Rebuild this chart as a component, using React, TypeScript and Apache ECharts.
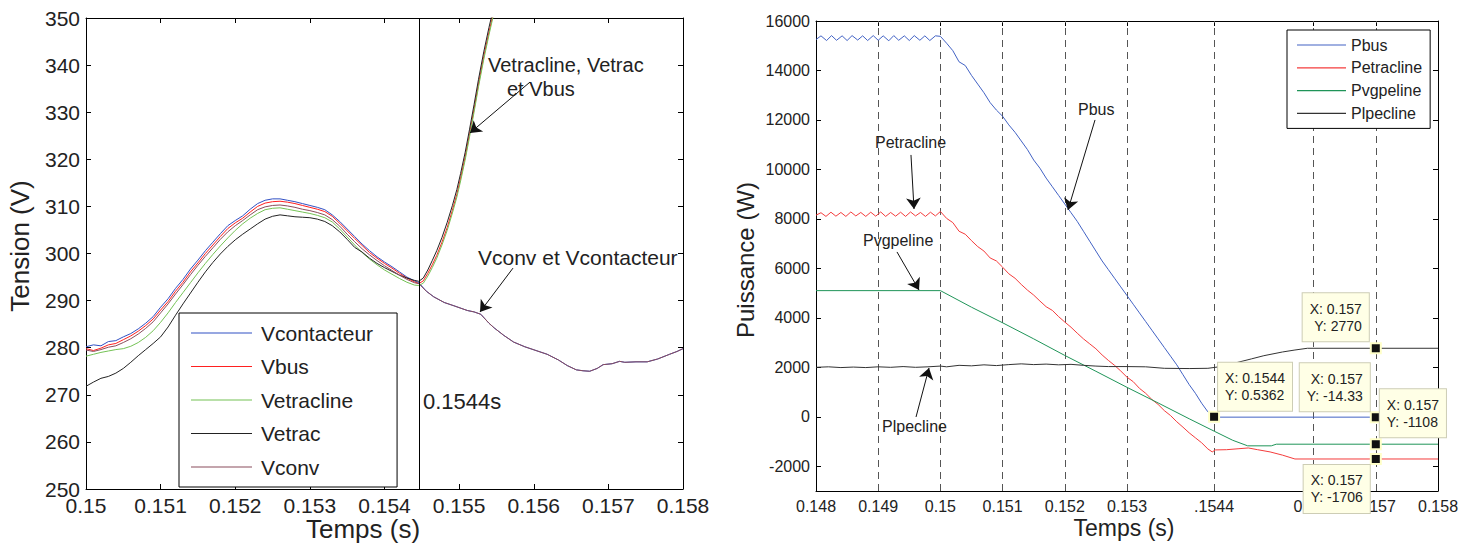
import React, { useEffect, useRef } from "react";
import * as echarts from "echarts";

const FONT = '"Liberation Sans", Arial, Helvetica, sans-serif';

// ---------------- Left chart: Tension (V) ----------------
const X_TICKS_L = [0.15, 0.151, 0.152, 0.153, 0.154, 0.155, 0.156, 0.157, 0.158];
const Y_RANGE_L = [250, 350];
const SWITCH_T = 0.15446;

const T_BEFORE = [
  0.15, 0.1501, 0.1502, 0.1503, 0.1504, 0.1505, 0.1506, 0.1507, 0.1508, 0.1509,
  0.151, 0.1511, 0.1512, 0.1513, 0.1514, 0.1515, 0.1516, 0.1517, 0.1518, 0.1519,
  0.152, 0.1521, 0.1522, 0.1523, 0.1524, 0.1525, 0.1526, 0.1527, 0.1528, 0.1529,
  0.153, 0.1531, 0.1532, 0.1533, 0.1534, 0.1535, 0.1536, 0.1537, 0.1538, 0.1539,
  0.154, 0.1541, 0.1542, 0.1543, 0.1544, 0.15446,
];
const V_VCONTACTEUR_BEFORE = [
  280.2, 280.6, 280.4, 281.3, 281.5, 282.3, 283.0, 284.0, 285.2, 286.6,
  288.6, 290.4, 292.6, 294.5, 296.7, 298.6, 300.6, 302.4, 304.2, 305.9,
  307.0, 308.0, 309.4, 310.6, 311.3, 311.6, 311.6, 311.3, 311.0, 310.6,
  310.2, 309.8, 309.3, 308.2, 306.8, 305.2, 303.6, 302.0, 300.6, 299.3,
  298.2, 297.2, 296.1, 295.0, 294.2, 293.8,
];
const V_VBUS_BEFORE = [
  279.8, 279.4, 279.9, 280.6, 280.9, 281.7, 282.5, 283.5, 284.7, 286.1,
  288.0, 289.8, 292.0, 293.9, 296.1, 298.0, 300.0, 301.8, 303.6, 305.3,
  306.5, 307.5, 308.8, 310.0, 310.7, 311.0, 311.1, 310.9, 310.6, 310.2,
  309.8, 309.4, 308.9, 307.9, 306.4, 304.8, 303.2, 301.7, 300.2, 299.0,
  297.9, 296.9, 295.8, 294.8, 294.0, 293.6,
];
const V_VETRACLINE_BEFORE = [
  278.2, 278.6, 279.0, 279.3, 279.6, 279.8, 280.3, 281.1, 282.2, 283.6,
  285.4, 287.4, 289.6, 291.7, 293.8, 295.9, 297.9, 299.8, 301.6, 303.3,
  304.9, 306.3, 307.5, 308.5, 309.3, 309.6, 309.7, 309.4, 309.1, 308.8,
  308.5, 308.1, 307.6, 306.7, 305.2, 303.5, 301.8, 300.2, 298.8, 297.6,
  296.5, 295.6, 294.7, 293.9, 293.3, 293.2,
];
const V_VETRAC_BEFORE = [
  271.8, 272.7, 273.5, 273.9, 274.6, 275.6, 276.9, 278.3, 279.6, 280.9,
  282.3, 284.4, 286.9, 289.3, 291.6, 293.9, 296.1, 298.1, 299.9, 301.5,
  302.9, 304.1, 305.2, 306.3, 307.3, 307.9, 308.2, 308.0, 307.8, 307.7,
  307.6, 307.3, 306.8, 305.9, 304.6, 303.0, 301.3, 300.3, 299.0, 297.9,
  297.0, 296.2, 295.4, 294.8, 294.3, 294.1,
];
const V_VCONV_BEFORE = [
  279.5, 279.2, 279.6, 280.1, 280.4, 281.1, 281.9, 282.9, 284.1, 285.5,
  287.4, 289.3, 291.4, 293.4, 295.5, 297.5, 299.4, 301.2, 303.0, 304.6,
  305.9, 307.0, 308.2, 309.3, 309.9, 310.2, 310.3, 310.1, 309.8, 309.4,
  309.1, 308.7, 308.2, 307.2, 305.8, 304.1, 302.5, 301.0, 299.7, 298.5,
  297.4, 296.4, 295.4, 294.5, 293.8, 293.6,
];

const T_RISE = [
  0.15452, 0.15458, 0.15464, 0.1547, 0.15477, 0.15484, 0.15491, 0.15497, 0.15502,
  0.15508, 0.15514, 0.1552, 0.15526, 0.15533, 0.1554, 0.15548, 0.15556,
];
const V_VBUS_RISE = [
  294.2, 295.8, 297.6, 299.6, 302.4, 305.5, 309.2, 312.6, 316.0,
  320.4, 325.4, 330.6, 336.0, 341.8, 347.0, 352.5, 358.0,
];
const V_VETRACLINE_RISE = [
  293.7, 295.2, 297.0, 299.0, 301.8, 304.9, 308.6, 312.0, 315.4,
  319.8, 324.8, 330.0, 335.4, 341.2, 346.4, 352.0, 357.5,
];
const V_VETRAC_RISE = [
  294.8, 296.5, 298.5, 300.6, 303.4, 306.6, 310.2, 313.6, 317.0,
  321.4, 326.4, 331.6, 337.0, 342.8, 348.0, 353.4, 359.0,
];

const T_AFTER = [
  0.15456, 0.15466, 0.1548, 0.15493, 0.15511, 0.1552, 0.15529, 0.1554, 0.15547, 0.1556,
  0.15573, 0.15588, 0.15603, 0.15618, 0.15633, 0.15645, 0.15657, 0.15666, 0.15675, 0.15685,
  0.15693, 0.15705, 0.15715, 0.15722, 0.15737, 0.15752, 0.15766, 0.15782, 0.15792, 0.158,
];
const V_CONV_AFTER = [
  292.0, 290.8, 289.6, 288.9, 287.9, 287.6, 287.1, 285.2, 284.2, 282.6,
  281.2, 280.2, 279.4, 278.6, 277.4, 276.2, 275.3, 275.1, 275.0, 275.6,
  276.4, 276.6, 277.1, 276.9, 277.0, 277.0, 277.6, 278.6, 279.2, 279.8,
];

// ---------------- Right chart: Puissance (W) ----------------
const X_TICKS_R = [0.148, 0.149, 0.15, 0.151, 0.152, 0.153, 0.1544, 0.156, 0.157, 0.158];
const X_LABELS_R = ["0.148", "0.149", "0.15", "0.151", "0.152", "0.153", ".1544", "0.156", "0.157", "0.158"];
const X_GRID_R = [0.149, 0.15, 0.151, 0.152, 0.153, 0.1544, 0.156, 0.157];
const Y_TICKS_R = [-2000, 0, 2000, 4000, 6000, 8000, 10000, 12000, 14000, 16000];
const Y_RANGE_R = [-3000, 16000];

const T_PBUS = [
  0.148, 0.14808, 0.14817, 0.14825, 0.14833, 0.14842, 0.1485, 0.14858, 0.14867, 0.14875,
  0.14883, 0.14892, 0.149, 0.14908, 0.14917, 0.14925, 0.14933, 0.14942, 0.1495, 0.14958,
  0.14967, 0.14975, 0.14983, 0.14992, 0.15,
  0.1501, 0.1502, 0.1503, 0.1504, 0.1505, 0.1506, 0.1507, 0.1508, 0.1509, 0.151,
  0.1511, 0.1512, 0.1513, 0.1514, 0.1515, 0.1516, 0.1517, 0.1518, 0.1519, 0.152,
  0.1521, 0.1522, 0.1523, 0.1524, 0.1525, 0.1526, 0.1527, 0.1528, 0.1529, 0.153,
  0.1531, 0.1532, 0.1533, 0.1534, 0.1535, 0.1536, 0.1537, 0.1538, 0.1539, 0.154,
  0.1541, 0.1542, 0.1543, 0.1544, 0.15445, 0.158,
];
const P_PBUS = [
  15250, 15400, 15210, 15410, 15220, 15400, 15210, 15410, 15230, 15400,
  15210, 15410, 15220, 15400, 15200, 15410, 15220, 15400, 15210, 15410,
  15220, 15400, 15210, 15400, 15380,
  15100, 14800, 14350, 14200, 13800, 13450, 13100, 12700, 12400, 12150,
  11800, 11500, 11150, 10800, 10380, 10050, 9650, 9300, 8950, 8600,
  8250, 7900, 7500, 7100, 6700, 6300, 5950, 5600, 5250, 4900,
  4550, 4200, 3850, 3500, 3150, 2800, 2450, 2100, 1700, 1300,
  950, 550, 200, 0.5362, -14.33, -14.33,
];

const T_PETRACLINE = [
  0.148, 0.14808, 0.14816, 0.14824, 0.14832, 0.1484, 0.14848, 0.14856, 0.14864, 0.14872,
  0.1488, 0.14888, 0.14896, 0.14904, 0.14912, 0.1492, 0.14928, 0.14936, 0.14944, 0.14952,
  0.1496, 0.14968, 0.14976, 0.14984, 0.14992, 0.15,
  0.1501, 0.1502, 0.1503, 0.1504, 0.1505, 0.1506, 0.1507, 0.1508, 0.1509, 0.151,
  0.1511, 0.1512, 0.1513, 0.1514, 0.1515, 0.1516, 0.1517, 0.1518, 0.1519, 0.152,
  0.1521, 0.1522, 0.1523, 0.1524, 0.1525, 0.1526, 0.1527, 0.1528, 0.1529, 0.153,
  0.1531, 0.1532, 0.1533, 0.1534, 0.1535, 0.1536, 0.1537, 0.1538, 0.1539, 0.154,
  0.1541, 0.1542, 0.1543, 0.15437, 0.15442, 0.1546, 0.1548, 0.15495, 0.1551, 0.1553,
  0.1555, 0.1557, 0.157, 0.158,
];
const P_PETRACLINE = [
  8150, 8250, 8100, 8270, 8110, 8260, 8100, 8280, 8120, 8260,
  8100, 8270, 8110, 8280, 8100, 8260, 8110, 8270, 8100, 8280,
  8120, 8260, 8100, 8270, 8120, 8300,
  8020, 7850, 7500, 7380, 7120, 6880, 6700, 6420, 6300, 6050,
  5780, 5600, 5350, 5120, 4920, 4680, 4450, 4300, 4050, 3830,
  3620, 3380, 3150, 2950, 2750, 2500, 2280, 2080, 1850, 1600,
  1420, 1150, 950, 700, 500, 250, 50, -200, -420, -650,
  -850, -1050, -1300, -1420, -1340, -1330, -1290, -1260, -1330, -1420,
  -1550, -1706, -1706, -1706,
];

const T_PVGPELINE = [0.148, 0.15, 0.1505, 0.151, 0.1515, 0.152, 0.1525, 0.153, 0.1535, 0.154, 0.1544, 0.1547, 0.15494, 0.15532, 0.1554, 0.157, 0.158];
const P_PVGPELINE = [5100, 5100, 4430, 3800, 3150, 2480, 1840, 1190, 560, -80, -580, -950, -1174, -1174, -1108, -1108, -1108];

const T_PLPECLINE = [
  0.148, 0.1482, 0.1484, 0.1486, 0.1488, 0.149, 0.1492, 0.1494, 0.1496, 0.1498,
  0.15, 0.1501, 0.1503, 0.1505, 0.1507, 0.1509, 0.1511, 0.1513, 0.1515, 0.1517,
  0.1519, 0.1521, 0.1523, 0.1525, 0.1527, 0.153, 0.1533, 0.1536, 0.154, 0.1543,
  0.15445, 0.1547, 0.155, 0.1552, 0.1555, 0.1557, 0.1559, 0.157, 0.158,
];
const P_PLPECLINE = [
  2000, 2020, 1990, 2010, 1990, 2020, 2000, 2030, 2000, 2020,
  2050, 2020, 2080, 2060, 2100, 2070, 2110, 2140, 2110, 2130,
  2100, 2120, 2080, 2050, 2030, 2030, 2020, 1960, 1950, 1960,
  2010, 2150, 2340, 2470, 2620, 2700, 2770, 2770, 2770,
];

const zip = (t: number[], v: number[]) => t.map((x, i) => [x, v[i]]);

const C = {
  vcontacteur: "#3150c4",
  vbus: "#ff2020",
  vetracline: "#74c255",
  vetrac: "#222222",
  vconv: "#8a4c5c",
  pbus: "#4262c4",
  petracline: "#f43c3c",
  pvgpeline: "#1f9458",
  plpecline: "#333333",
};

const axisCommon = {
  axisLine: { show: true, onZero: false, lineStyle: { color: "#000", width: 1 } },
  splitLine: { show: false },
};

function tipLabel(text: string, position: number[], align: string, vAlign: string) {
  return {
    show: true,
    formatter: text,
    position,
    align,
    verticalAlign: vAlign,
    backgroundColor: "#ffffe6",
    borderColor: "#cdcdb5",
    borderWidth: 1,
    padding: [7, 7],
    fontSize: 14,
    lineHeight: 17,
    color: "#222",
    fontFamily: FONT,
  };
}

function tip(coord: number[], text: string, position: number[], align: string, vAlign: string) {
  return { coord, label: tipLabel(text, position, align, vAlign) };
}

const markPointBase = {
  symbol: "rect",
  symbolSize: 10,
  silent: true,
  itemStyle: { color: "#111", borderColor: "#ffffc8", borderWidth: 2 },
};

function txt(text: string, x: number, y: number, size: number, align = "left", rot = 0) {
  return {
    type: "text",
    x,
    y,
    rotation: rot,
    silent: true,
    z: 100,
    style: {
      text,
      fill: "#222",
      fontSize: size,
      fontFamily: FONT,
      align,
      verticalAlign: "middle",
      textAlign: align,
      textVerticalAlign: "middle",
    },
  };
}

function buildOption() {
  const lineSeries = (name: string, color: string, data: number[][], xi: number, yi: number, extra: any = {}) => ({
    name,
    type: "line",
    xAxisIndex: xi,
    yAxisIndex: yi,
    data,
    symbol: "none",
    showSymbol: false,
    lineStyle: { color, width: 1 },
    itemStyle: { color },
    emphasis: { disabled: true },
    ...extra,
  });

  const arrowStyle = {
    silent: true,
    symbol: ["none", "arrow"],
    symbolSize: 11,
    label: { show: false },
    lineStyle: { color: "#111", width: 1, type: "solid" },
  };

  const legendBase = {
    orient: "vertical",
    selectedMode: false,
    icon: "rect",
    z: 20,
    borderColor: "#000",
    borderWidth: 1,
    backgroundColor: "#fff",
  };

  return {
    animation: false,
    backgroundColor: "#fff",
    textStyle: { fontFamily: FONT },
    grid: [
      { left: 86, top: 18, width: 597, height: 471 },
      { left: 816, top: 21, width: 622, height: 470 },
    ],
    xAxis: [
      {
        gridIndex: 0, type: "value", min: 0.15, max: 0.158, ...axisCommon,
        axisLabel: { customValues: X_TICKS_L, formatter: (v: number) => String(v), fontSize: 21, color: "#222", margin: 6 },
        axisTick: { customValues: X_TICKS_L, inside: true, length: 5, lineStyle: { color: "#000" } },
      },
      {
        gridIndex: 0, type: "value", position: "top", min: 0.15, max: 0.158, ...axisCommon,
        axisLabel: { show: false },
        axisTick: { customValues: X_TICKS_L, inside: true, length: 5, lineStyle: { color: "#000" } },
      },
      {
        gridIndex: 1, type: "value", min: 0.148, max: 0.158, ...axisCommon,
        axisLabel: {
          customValues: X_TICKS_R,
          formatter: (v: number) => {
            const i = X_TICKS_R.findIndex((t) => Math.abs(t - v) < 1e-9);
            return i >= 0 ? X_LABELS_R[i] : "";
          },
          fontSize: 16, color: "#222", margin: 7,
        },
        axisTick: { customValues: X_TICKS_R, inside: true, length: 5, lineStyle: { color: "#000" } },
      },
      {
        gridIndex: 1, type: "value", position: "top", min: 0.148, max: 0.158, ...axisCommon,
        axisLabel: { show: false },
        axisTick: { customValues: X_TICKS_R, inside: true, length: 5, lineStyle: { color: "#000" } },
      },
    ],
    yAxis: [
      {
        gridIndex: 0, type: "value", min: Y_RANGE_L[0], max: Y_RANGE_L[1], interval: 10, ...axisCommon,
        axisLabel: { fontSize: 21, color: "#222", margin: 6, formatter: (v: number) => String(v) },
        axisTick: { inside: true, length: 5, lineStyle: { color: "#000" } },
      },
      {
        gridIndex: 0, type: "value", position: "right", min: Y_RANGE_L[0], max: Y_RANGE_L[1], interval: 10, ...axisCommon,
        axisLabel: { show: false },
        axisTick: { inside: true, length: 5, lineStyle: { color: "#000" } },
      },
      {
        gridIndex: 1, type: "value", min: Y_RANGE_R[0], max: Y_RANGE_R[1], ...axisCommon,
        axisLabel: { customValues: Y_TICKS_R, fontSize: 16, color: "#222", margin: 6, formatter: (v: number) => String(v) },
        axisTick: { customValues: Y_TICKS_R, inside: true, length: 5, lineStyle: { color: "#000" } },
      },
      {
        gridIndex: 1, type: "value", position: "right", min: Y_RANGE_R[0], max: Y_RANGE_R[1], ...axisCommon,
        axisLabel: { show: false },
        axisTick: { customValues: Y_TICKS_R, inside: true, length: 5, lineStyle: { color: "#000" } },
      },
    ],
    legend: [
      {
        ...legendBase,
        data: ["Vcontacteur", "Vbus", "Vetracline", "Vetrac", "Vconv"],
        left: 179, top: 313,
        itemWidth: 61, itemHeight: 1.2, itemGap: 9.5,
        padding: [8, 24, 8, 12],
        textStyle: { fontSize: 21, lineHeight: 24, color: "#222", fontFamily: FONT, padding: [0, 0, 0, 4] },
      },
      {
        ...legendBase,
        data: ["Pbus", "Petracline", "Pvgpeline", "Plpecline"],
        left: 1287, top: 30,
        itemWidth: 49, itemHeight: 1.2, itemGap: 4.8,
        padding: [6, 8, 6, 10],
        textStyle: { fontSize: 16, lineHeight: 18, color: "#222", fontFamily: FONT },
      },
    ],
    series: [
      lineSeries("Vcontacteur", C.vcontacteur, zip([...T_BEFORE, ...T_AFTER], [...V_VCONTACTEUR_BEFORE, ...V_CONV_AFTER]), 0, 0),
      lineSeries("Vbus", C.vbus, zip([...T_BEFORE, ...T_RISE], [...V_VBUS_BEFORE, ...V_VBUS_RISE]), 0, 0),
      lineSeries("Vetracline", C.vetracline, zip([...T_BEFORE, ...T_RISE], [...V_VETRACLINE_BEFORE, ...V_VETRACLINE_RISE]), 0, 0),
      lineSeries("Vetrac", C.vetrac, zip([...T_BEFORE, ...T_RISE], [...V_VETRAC_BEFORE, ...V_VETRAC_RISE]), 0, 0, {
        markLine: {
          silent: true, symbol: "none", label: { show: false },
          lineStyle: { color: "#000", width: 1, type: "solid" },
          data: [[{ coord: [SWITCH_T, Y_RANGE_L[0]] }, { coord: [SWITCH_T, Y_RANGE_L[1]] }]],
        },
      }),
      lineSeries("Vconv", C.vconv, zip([...T_BEFORE, ...T_AFTER], [...V_VCONV_BEFORE, ...V_CONV_AFTER]), 0, 0, {
        markLine: {
          ...arrowStyle,
          data: [
            [{ coord: [0.15595, 336.4] }, { coord: [0.155146, 325.6] }],
            [{ coord: [0.155722, 296.9] }, { coord: [0.15528, 287.6] }],
          ],
        },
      }),
      lineSeries("Pbus", C.pbus, zip(T_PBUS, P_PBUS), 2, 2, {
        z: 3,
        markPoint: {
          ...markPointBase,
          data: [
            tip([0.1544, 0.5362], "X: 0.1544\nY: 0.5362", [10, 0], "left", "bottom"),
            tip([0.157, -14.33], "X: 0.157\nY: -14.33", [0, 0], "right", "bottom"),
          ],
        },
      }),
      lineSeries("Petracline", C.petracline, zip(T_PETRACLINE, P_PETRACLINE), 2, 2, {
        z: 3,
        markPoint: {
          ...markPointBase,
          data: [tip([0.157, -1706], "X: 0.157\nY: -1706", [0, 12], "right", "top")],
        },
      }),
      lineSeries("Pvgpeline", C.pvgpeline, zip(T_PVGPELINE, P_PVGPELINE), 2, 2, {
        z: 3,
        markPoint: {
          ...markPointBase,
          data: [tip([0.157, -1108], "X: 0.157\nY: -1108", [10, -1], "left", "bottom")],
        },
      }),
      lineSeries("Plpecline", C.plpecline, zip(T_PLPECLINE, P_PLPECLINE), 2, 2, {
        z: 3,
        markLine: {
          ...arrowStyle,
          data: [
            [{ coord: [0.152486, 12000] }, { coord: [0.152051, 8361] }],
            [{ coord: [0.149527, 10585] }, { coord: [0.149576, 8400] }],
            [{ coord: [0.149302, 6663] }, { coord: [0.149656, 5127] }],
            [{ coord: [0.149608, -8] }, { coord: [0.149817, 1973] }],
          ],
        },
        markPoint: {
          ...markPointBase,
          data: [tip([0.157, 2770], "X: 0.157\nY: 2770", [-1, -1], "right", "bottom")],
        },
      }),
      {
        name: "grid-r",
        type: "line",
        xAxisIndex: 2,
        yAxisIndex: 2,
        data: [],
        z: 1,
        markLine: {
          silent: true, symbol: "none", label: { show: false }, z: 1,
          lineStyle: { color: "#555", width: 1, type: [7, 5] },
          data: X_GRID_R.map((v) => [{ coord: [v, Y_RANGE_R[0]] }, { coord: [v, Y_RANGE_R[1]] }]),
        },
      },
    ],
    graphic: [
      txt("Tension (V)", 20, 246, 26, "center", Math.PI / 2),
      txt("Temps (s)", 363, 529, 26, "center"),
      txt("Puissance (W)", 745, 260, 24, "center", Math.PI / 2),
      txt("Temps (s)", 1124, 528, 23, "center"),
      txt("Vetracline, Vetrac", 488, 65, 20),
      txt("et Vbus", 507, 89, 20),
      txt("Vconv et Vcontacteur", 478, 257, 21),
      txt("0.1544s", 423, 401, 22),
      txt("Pbus", 1078, 109, 16),
      txt("Petracline", 875, 142, 16),
      txt("Pvgpeline", 863, 240, 16),
      txt("Plpecline", 882, 426, 16),
    ],
  };
}

export default function App() {
  const ref = useRef<HTMLDivElement>(null);
  useEffect(() => {
    document.body.style.margin = "0";
    if (!ref.current) return;
    const chart = echarts.init(ref.current, null, { renderer: "svg" });
    chart.setOption(buildOption() as any);
    return () => chart.dispose();
  }, []);
  return <div ref={ref} style={{ width: 1469, height: 543, position: "absolute", left: 0, top: 0, background: "#fff" }} />;
}
